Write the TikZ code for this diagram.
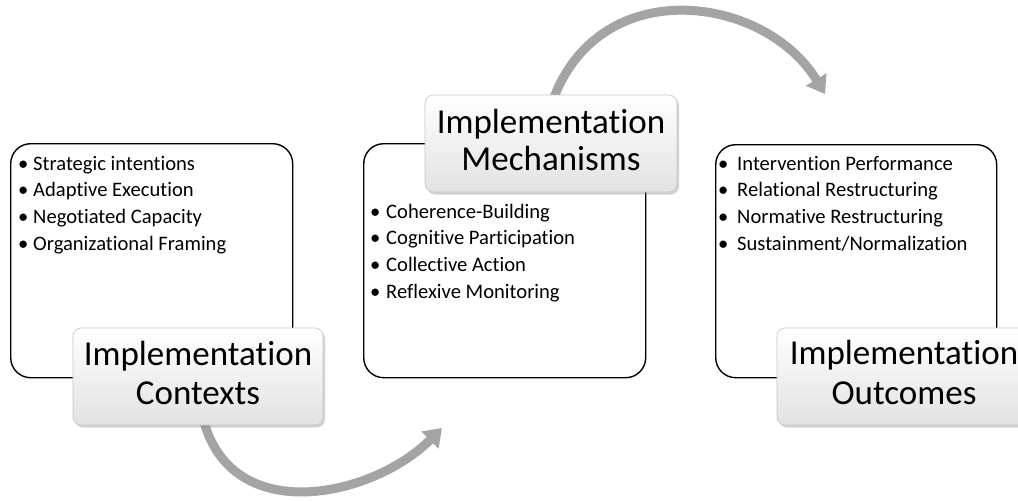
\documentclass[tikz,border=0pt]{standalone}
\usepackage{fontspec}
\setmainfont[RawFeature={-liga,-dlig,-clig}]{Carlito}
\usetikzlibrary{arrows.meta,shadows}
\definecolor{arrowgray}{RGB}{164,164,164}
\definecolor{labelbottom}{RGB}{226,226,226}
\newcommand\bul[1]{\makebox[#1][l]{\textbullet}}
\tikzset{
  listbox/.style={draw=black, line width=1.4pt, rounded corners=20pt, anchor=north west, inner sep=0pt},
  stagelabel/.style={rounded corners=8pt, top color=white, bottom color=labelbottom, draw=black!22, line width=0.6pt,
    drop shadow={opacity=0.35, shadow xshift=2pt, shadow yshift=-2.5pt},
    align=center, inner sep=0pt, minimum height=97pt},
  bulletlist/.style={anchor=base west, inner sep=0pt, font=\fontsize{20.6}{26.8}\selectfont},
  cyclearrow/.style={draw=arrowgray, line width=9pt, -{Triangle[length=17pt,width=23pt]}},
}
\begin{document}
\begin{tikzpicture}[x=1pt,y=-1pt]
\path[use as bounding box, clip] (0,0) rectangle (1018,501);
\fill[white] (0,0) rectangle (1018,501);

% list boxes
\node[listbox, minimum width=282pt, minimum height=234pt] (ctxbox) at (10,143) {};
\node[listbox, minimum width=282pt, minimum height=234pt] (mechbox) at (363,143) {};
\node[listbox, minimum width=281pt, minimum height=233pt] (outbox) at (715,144) {};

% bullet lists
\node[bulletlist] (ctxlist) at (18,170) {\begin{tabular}[t]{@{}l@{}}
\bul{15pt}Strategic intentions\\
\bul{15pt}Adaptive Execution\\
\bul{15pt}Negotiated Capacity\\
\bul{15pt}Organizational Framing
\end{tabular}};
\node[bulletlist] (mechlist) at (370,218) {\begin{tabular}[t]{@{}l@{}}
\bul{16pt}Coherence-Building\\
\bul{16pt}Cognitive Participation\\
\bul{16pt}Collective Action\\
\bul{16pt}Reflexive Monitoring
\end{tabular}};
\node[bulletlist] (outlist) at (718,170) {\begin{tabular}[t]{@{}l@{}}
\bul{19pt}Intervention Performance\\
\bul{19pt}Relational Restructuring\\
\bul{19pt}Normative Restructuring\\
\bul{19pt}Sustainment/Normalization
\end{tabular}};

% cycle arrows
\coordinate (a1s) at (203,418);
\coordinate (a1e) at (442,428);
\draw[cyclearrow] (a1s) .. controls (230,528) and (372,498) .. (a1e);
\coordinate (a2s) at (553,100);
\coordinate (a2e) at (825,94);
\draw[cyclearrow] (a2s) .. controls (600,-28) and (765,-5) .. (a2e);

% stage labels
\node[stagelabel, minimum width=250pt, font=\fontsize{35}{39}\selectfont] (ctxlabel) at (198,376.5)
  {Implementation\\Contexts\rule[-8pt]{0pt}{8pt}};
\node[stagelabel, minimum width=252pt, font=\fontsize{35}{37}\selectfont] (mechlabel) at (551,143.5)
  {Implementation\\Mechanisms\rule[-8pt]{0pt}{8pt}};
\node[stagelabel, minimum width=254pt, font=\fontsize{35}{40}\selectfont] (outlabel) at (904,376.5)
  {Implementation\\Outcomes\rule[-8pt]{0pt}{8pt}};
\end{tikzpicture}
\end{document}
